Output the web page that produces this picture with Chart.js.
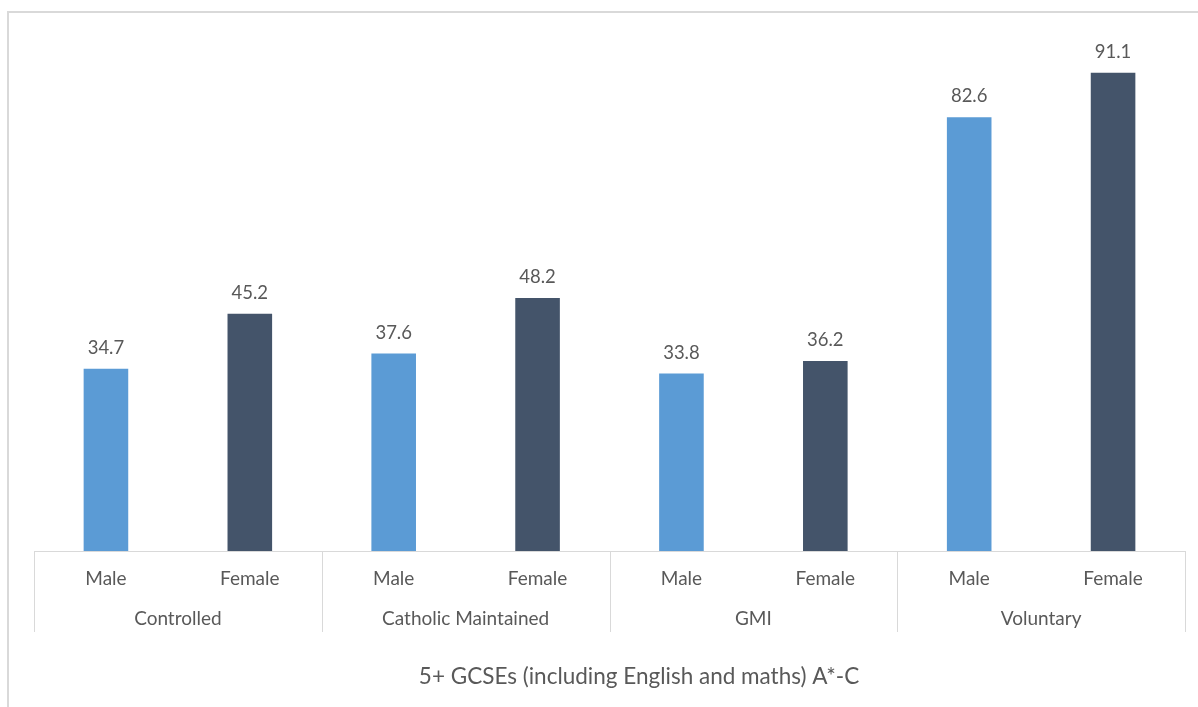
<!DOCTYPE html>
<html>
<head>
<meta charset="utf-8">
<script src="https://cdn.jsdelivr.net/npm/chart.js@4"></script>
<style>
  html, body { margin: 0; padding: 0; background: #fff; }
  #wrap { position: relative; width: 1198px; height: 707px; }
</style>
</head>
<body>
<div id="wrap"><canvas id="gcse-chart" width="1198" height="707"></canvas></div>
<script>
var groups = ['Controlled', 'Catholic Maintained', 'GMI', 'Voluntary']
var genders = ['Male', 'Female']
var labels = ['Male', 'Female', 'Male', 'Female', 'Male', 'Female', 'Male', 'Female']
var values = [34.7, 45.2, 37.6, 48.2, 33.8, 36.2, 82.6, 91.1]
var chartTitle = '5+ GCSEs (including English and maths) A*-C'

var maleColor = '#5B9BD5'
var femaleColor = '#44546A'
var textColor = '#595959'
var lineColor = '#D9D9D9'
var fontFamily = 'Lato, "Open Sans", sans-serif'

// frame, value labels, group separators and group names
var decorPlugin = {
    id: 'decor',
    beforeDraw: function(chart) {
        var ctx = chart.ctx
        ctx.save()
        ctx.fillStyle = lineColor
        ctx.fillRect(7, 11, 2, 700)
        ctx.fillRect(7, 11, 1200, 2)
        ctx.restore()
    },
    afterDraw: function(chart) {
        var ctx = chart.ctx
        var x = chart.scales.x
        var meta = chart.getDatasetMeta(0)
        ctx.save()
        ctx.fillStyle = textColor
        ctx.textAlign = 'center'
        ctx.textBaseline = 'middle'
        ctx.font = '18.5px ' + fontFamily
        meta.data.forEach(function(bar, i) {
            ctx.fillText(values[i].toFixed(1), bar.x, bar.y - 21)
        })

        var top = x.top
        var bottom = x.bottom
        ctx.strokeStyle = lineColor
        ctx.lineWidth = 1
        ctx.font = '19px ' + fontFamily
        var edges = [x.left]
        for (var g = 0; g < groups.length; g++) {
            var a = x.getPixelForValue(g * 2)
            var b = x.getPixelForValue(g * 2 + 1)
            var right = g < groups.length - 1 ? (b + x.getPixelForValue(g * 2 + 2)) / 2 : x.right
            edges.push(right)
            ctx.fillText(groups[g], (a + b) / 2, top + 68)
        }
        edges.forEach(function(e) {
            var px = Math.round(e) + 0.5
            ctx.beginPath()
            ctx.moveTo(px, top)
            ctx.lineTo(px, bottom)
            ctx.stroke()
        })

        ctx.font = '22.5px ' + fontFamily
        ctx.fillText(chartTitle, 639, 677)
        ctx.restore()
    }
}

function drawChart() {
    var ctx = document.getElementById('gcse-chart')
    new Chart(ctx, {
        type: 'bar',
        data: {
            labels: labels,
            datasets: [{
                label: chartTitle,
                data: values,
                backgroundColor: labels.map(function(l) { return l === genders[0] ? maleColor : femaleColor }),
                categoryPercentage: 1,
                barPercentage: 0.31
            }]
        },
        options: {
            responsive: false,
            animation: false,
            layout: {
                padding: { left: 34, right: 13, top: 26, bottom: 75 }
            },
            plugins: {
                legend: { display: false },
                tooltip: { enabled: false }
            },
            scales: {
                y: {
                    display: false,
                    min: 0,
                    max: 100
                },
                x: {
                    grid: { display: false },
                    border: { display: true, color: lineColor, width: 1 },
                    ticks: {
                        color: textColor,
                        font: { family: fontFamily, size: 19 },
                        padding: 8,
                        maxRotation: 0,
                        autoSkip: false
                    },
                    afterFit: function(scale) {
                        scale.height = 81
                    }
                }
            }
        },
        plugins: [decorPlugin]
    })
}

drawChart()
</script>
</body>
</html>
